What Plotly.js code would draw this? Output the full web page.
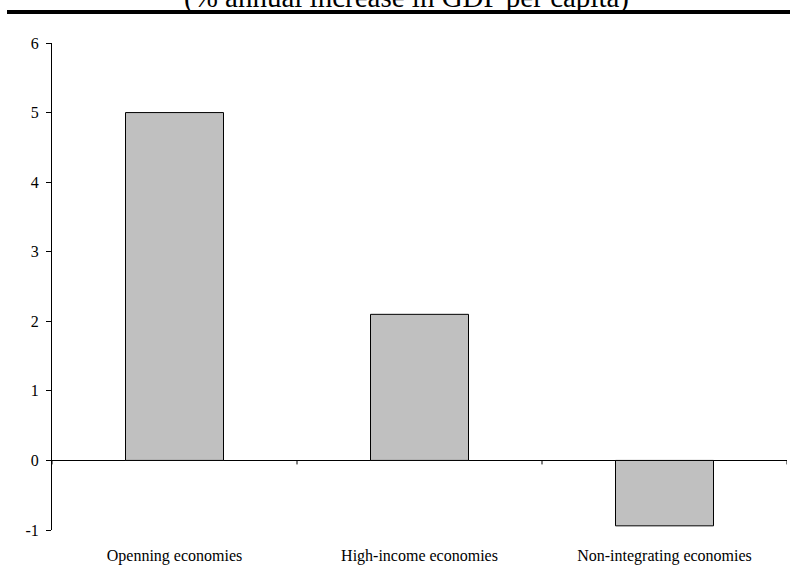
<!DOCTYPE html>
<html><head><meta charset="utf-8">
<script src="https://cdn.plot.ly/plotly-3.0.1.min.js"></script>
<style>html,body{margin:0;padding:0;background:#fff}</style>
</head><body><div id="chart" style="width:790px;height:583px"></div>
<script>
const categories = ["Openning economies", "High-income economies", "Non-integrating economies"];
const growth = [5.0, 2.1, -0.94];
const yTicks = [-1, 0, 1, 2, 3, 4, 5, 6];
const yTickText = ["-1", "0", "1", "2", "3", "4", "5", "6"];
const titleText = "(% annual increase in GDP per capita)";

const boundaryShapes = [-0.5, 0.5, 1.5, 2.5].map(b => ({
  type: 'line', xref: 'x', yref: 'y', ysizemode: 'pixel', yanchor: 0,
  x0: b, x1: b, y0: 0, y1: -4, line: {color: '#000', width: 1}
}));

const data = [{
  type: 'bar', x: [0, 1, 2], y: growth, width: 0.4,
  marker: {color: '#c0c0c0', line: {color: '#000', width: 1}},
  hoverinfo: 'none'
}];

const serif = '"Liberation Serif", "Times New Roman", serif';
const layout = {
  width: 790, height: 583,
  margin: {l: 52, r: 3, t: 43, b: 53},
  paper_bgcolor: '#fff', plot_bgcolor: '#fff',
  font: {family: serif, color: '#000', size: 16},
  showlegend: false,
  annotations: [{
    text: titleText, xref: 'paper', yref: 'paper',
    x: (406 - 52) / 735, y: 1 + (43 - 15) / 487, xanchor: 'center', yanchor: 'bottom',
    showarrow: false, font: {size: 29, family: serif, color: '#000'}, borderpad: 0
  }],
  xaxis: {range: [-0.5, 2.5], tickvals: [0, 1, 2], ticktext: categories, showline: false,
          ticks: '', showgrid: false, zeroline: false, fixedrange: true, ticklabelstandoff: 14},
  yaxis: {range: [-1, 6], tickvals: yTicks, ticktext: yTickText, ticks: 'outside', ticklen: 5, tickcolor: '#000',
          showline: true, linecolor: '#000', linewidth: 1, showgrid: false, ticklabelstandoff: 4,
          zeroline: true, zerolinecolor: '#000', zerolinewidth: 1, fixedrange: true},
  shapes: boundaryShapes.concat([{
    type: 'line', xref: 'paper', yref: 'paper',
    x0: (7 - 52) / 735, x1: (790 - 52) / 735, y0: 1 + (43 - 12) / 487, y1: 1 + (43 - 12) / 487,
    line: {color: '#000', width: 4}
  }])
};
Plotly.newPlot('chart', data, layout, {displayModeBar: false, staticPlot: true});
</script></body></html>
